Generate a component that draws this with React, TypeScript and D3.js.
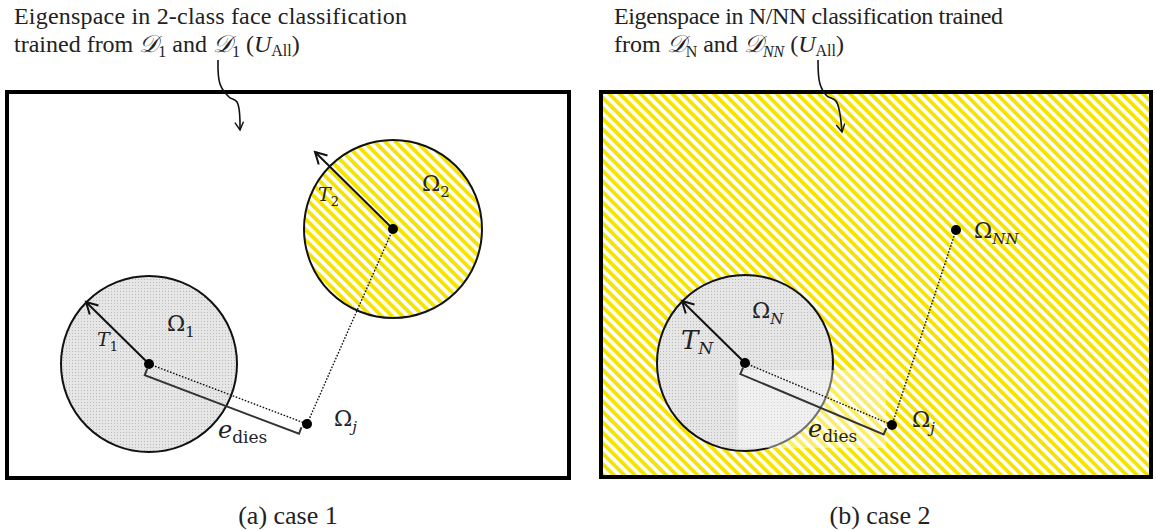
import { curveCatmullRom, line, scaleLinear } from "d3";

// panel-local coordinates (units = box space, origin at box top-left)
const panelNames = ["case1", "case2"];
const captions = ["(a) case 1", "(b) case 2"];
const titleLine1 = ["Eigenspace in 2-class face classification", "Eigenspace in N/NN classification trained"];
const titleWidths = [393, 389];

// classes drawn as circles
const classCircles = [
  { panel: 0, cx: 142, cy: 272, r: 88, fill: "gray", label: "1", tx: 79, ty: 210, lx: 160, ly: 239, tlx: 90, tly: 254 },
  { panel: 0, cx: 386, cy: 137, r: 89, fill: "hatch", label: "2", tx: 308, ty: 60, lx: 415, ly: 99, tlx: 311, tly: 109 },
  { panel: 1, cx: 144, cy: 271, r: 88, fill: "gray", label: "N", tx: 81, ty: 209, lx: 151, ly: 226, tlx: 80, tly: 257 },
];
const farCentres = [{ panel: 1, x: 355, y: 138 }];
const probePoints = [
  { panel: 0, x: 300, y: 332 },
  { panel: 1, x: 291, y: 333 },
];
const edLabels = [
  { panel: 0, x: 211, y: 346 },
  { panel: 1, x: 207, y: 345 },
];
const curlyArrows = [
  [
    [211, -32],
    [213, -8],
    [222, 5],
    [230, 10],
    [233, 38],
  ],
  [
    [217, -32],
    [219, -8],
    [226, 4],
    [235, 9],
    [241, 40],
  ],
];

const boxes = [
  { x0: 7, y0: 92, x1: 569, y1: 478 },
  { x0: 601, y0: 92, x1: 1151, y1: 477 },
];

const textFont = "'Liberation Serif', 'Times New Roman', Times, serif";
const mathFont = "'DejaVu Serif', serif";

function Hatch({ id }: { id: string }) {
  return (
    <pattern id={id} patternUnits="userSpaceOnUse" width="7.4" height="7.4" patternTransform="rotate(-45)">
      <rect width="7.4" height="7.4" fill="#ffffff" />
      <rect width="3.8" height="7.4" fill="#f5e300" />
    </pattern>
  );
}

function Dots({ id }: { id: string }) {
  return (
    <pattern id={id} patternUnits="userSpaceOnUse" width="3" height="3">
      <rect width="3" height="3" fill="#e6e6e6" />
      <rect width="1" height="1" fill="#b9b9b9" />
    </pattern>
  );
}

function arrowHead(x: number, y: number, fromX: number, fromY: number, size = 13) {
  const a = Math.atan2(y - fromY, x - fromX);
  const s = 0.5;
  return `M${x - size * Math.cos(a - s)},${y - size * Math.sin(a - s)}L${x},${y}L${x - size * Math.cos(a + s)},${y - size * Math.sin(a + s)}`;
}

function Panel({ index }: { index: number }) {
  const b = boxes[index];
  const x = scaleLinear().domain([0, b.x1 - b.x0]).range([b.x0, b.x1]);
  const y = scaleLinear().domain([0, b.y1 - b.y0]).range([b.y0, b.y1]);
  const circles = classCircles.filter((c) => c.panel === index);
  const probe = probePoints.find((p) => p.panel === index)!;
  const ed = edLabels.find((p) => p.panel === index)!;
  const near = circles[0];
  const far = index === 0 ? { x: circles[1].cx, y: circles[1].cy } : farCentres[0];
  const curve = line<number[]>()
    .x((d) => x(d[0]))
    .y((d) => y(d[1]))
    .curve(curveCatmullRom)(curlyArrows[index]);

  // bracket under the near-centre -> probe segment
  const cx = x(near.cx);
  const cy = y(near.cy);
  const px = x(probe.x);
  const py = y(probe.y);
  const len = Math.hypot(px - cx, py - cy);
  const ux = (px - cx) / len;
  const uy = (py - cy) / len;
  const nx = -uy;
  const ny = ux;
  const off = 12;
  const tick = 7;
  const shrink = 4;
  const b0 = [cx + nx * off, cy + ny * off];
  const b1 = [px - ux * shrink + nx * off, py - uy * shrink + ny * off];
  const bracket = `M${b0[0] - nx * tick},${b0[1] - ny * tick}L${b0[0]},${b0[1]}L${b1[0]},${b1[1]}L${b1[0] - nx * tick},${b1[1] - ny * tick}`;

  const last = curlyArrows[index][curlyArrows[index].length - 1];
  const prev = curlyArrows[index][curlyArrows[index].length - 2];

  const tx = index === 0 ? 14 : 614;
  const titleSize = 24;
  const subSize = 16;

  return (
    <g>
      <text
        x={tx}
        y={24}
        fontFamily={textFont}
        fontSize={titleSize}
        fill="#222"
        textLength={titleWidths[index]}
        lengthAdjust="spacing"
      >
        {titleLine1[index]}
      </text>
      {index === 0 ? (
        <text x={tx} y={52} fontFamily={textFont} fontSize={titleSize} fill="#222">
          trained from{" "}
          <tspan fontFamily={mathFont} fontStyle="italic">𝒟</tspan>
          <tspan dy="5" fontSize={subSize}>1</tspan>
          <tspan dy="-5"> and </tspan>
          <tspan fontFamily={mathFont} fontStyle="italic">𝒟</tspan>
          <tspan dy="5" fontSize={subSize}>1</tspan>
          <tspan dy="-5"> (</tspan>
          <tspan fontStyle="italic">U</tspan>
          <tspan dy="4" fontSize={subSize}>All</tspan>
          <tspan dy="-4">)</tspan>
        </text>
      ) : (
        <text x={tx} y={52} fontFamily={textFont} fontSize={titleSize} fill="#222">
          from{" "}
          <tspan fontFamily={mathFont} fontStyle="italic">𝒟</tspan>
          <tspan dy="5" fontSize={subSize}>N</tspan>
          <tspan dy="-5"> and </tspan>
          <tspan fontFamily={mathFont} fontStyle="italic">𝒟</tspan>
          <tspan dy="5" fontSize={subSize} fontStyle="italic">NN</tspan>
          <tspan dy="-5"> (</tspan>
          <tspan fontStyle="italic">U</tspan>
          <tspan dy="4" fontSize={subSize}>All</tspan>
          <tspan dy="-4">)</tspan>
        </text>
      )}

      <rect
        x={b.x0}
        y={b.y0}
        width={b.x1 - b.x0}
        height={b.y1 - b.y0}
        fill={index === 0 ? "#ffffff" : "url(#hatch)"}
      />

      {circles.map((c) => (
        <circle
          key={c.label}
          cx={x(c.cx)}
          cy={y(c.cy)}
          r={c.r}
          fill={c.fill === "gray" ? "url(#dots)" : "url(#hatch)"}
          stroke="#111"
          strokeWidth="2"
        />
      ))}

      {index === 1 ? (
        <rect x={x(137)} y={y(278)} width={x(285) - x(137)} height={y(356) - y(278)} fill="#ffffff" opacity="0.4" />
      ) : null}

      <rect
        x={b.x0}
        y={b.y0}
        width={b.x1 - b.x0}
        height={b.y1 - b.y0}
        fill="none"
        stroke="#000"
        strokeWidth="4"
      />

      {/* radius arrows */}
      {circles.map((c) => (
        <g key={`t${c.label}`} stroke="#111" strokeWidth="2" fill="none">
          <line x1={x(c.cx)} y1={y(c.cy)} x2={x(c.tx)} y2={y(c.ty)} />
          <path d={arrowHead(x(c.tx), y(c.ty), x(c.cx), y(c.cy))} />
        </g>
      ))}

      {/* distance lines */}
      <line x1={cx} y1={cy} x2={px} y2={py} stroke="#111" strokeWidth="1.4" strokeDasharray="1.6 1.6" />
      <line x1={x(far.x)} y1={y(far.y)} x2={px} y2={py} stroke="#111" strokeWidth="1.4" strokeDasharray="1.6 1.6" />
      <path d={bracket} fill="none" stroke="#333" strokeWidth="2" />

      {/* centre dots */}
      {circles.map((c) => (
        <circle key={`d${c.label}`} cx={x(c.cx)} cy={y(c.cy)} r="5" fill="#000" />
      ))}
      {index === 1 ? <circle cx={x(far.x)} cy={y(far.y)} r="5" fill="#000" /> : null}
      <circle cx={px} cy={py} r="5" fill="#000" />

      {/* curly pointer */}
      <path d={curve ?? ""} fill="none" stroke="#111" strokeWidth="1.6" />
      <path d={arrowHead(x(last[0]), y(last[1]), x(prev[0]), y(prev[1]), 9)} fill="none" stroke="#111" strokeWidth="1.4" />

      {/* labels */}
      <g fontFamily={mathFont} fill="#222">
        {circles.map((c) => (
          <g key={`l${c.label}`}>
            <text x={x(c.lx)} y={y(c.ly)} fontSize="22">
              Ω<tspan dy="6" fontSize="15" fontStyle={c.label === "N" ? "italic" : "normal"}>{c.label}</tspan>
            </text>
            <text x={x(c.tlx)} y={y(c.tly)} fontSize={index === 1 ? 26 : 19} fontStyle="italic">
              T<tspan dy="5" fontSize={index === 1 ? 17 : 13} fontStyle={c.label === "N" ? "italic" : "normal"}>{c.label}</tspan>
            </text>
          </g>
        ))}
        {index === 1 ? (
          <text x={x(373)} y={y(146)} fontSize="22">
            Ω<tspan dy="6" fontSize="15" fontStyle="italic">NN</tspan>
          </text>
        ) : null}
        <text x={px + (index === 0 ? 27 : 20)} y={py + 2} fontSize="22">
          Ω<tspan dy="6" fontSize="15" fontStyle="italic">j</tspan>
        </text>
        <text x={x(ed.x)} y={y(ed.y)} fontSize="24" fontStyle="italic">
          e<tspan dy="5" fontSize="17" fontStyle="normal">dies</tspan>
        </text>
      </g>

      <text
        x={index === 0 ? 288 : 880}
        y={524}
        textAnchor="middle"
        fontFamily={textFont}
        fontSize="26"
        fill="#222"
      >
        {captions[index]}
      </text>
    </g>
  );
}

export default function App() {
  return (
    <svg width={1156} height={531} style={{ position: "absolute", left: 0, top: 0, background: "#fff" }}>
      <defs>
        <Hatch id="hatch" />
        <Dots id="dots" />
      </defs>
      {panelNames.map((name, i) => (
        <Panel key={name} index={i} />
      ))}
    </svg>
  );
}
